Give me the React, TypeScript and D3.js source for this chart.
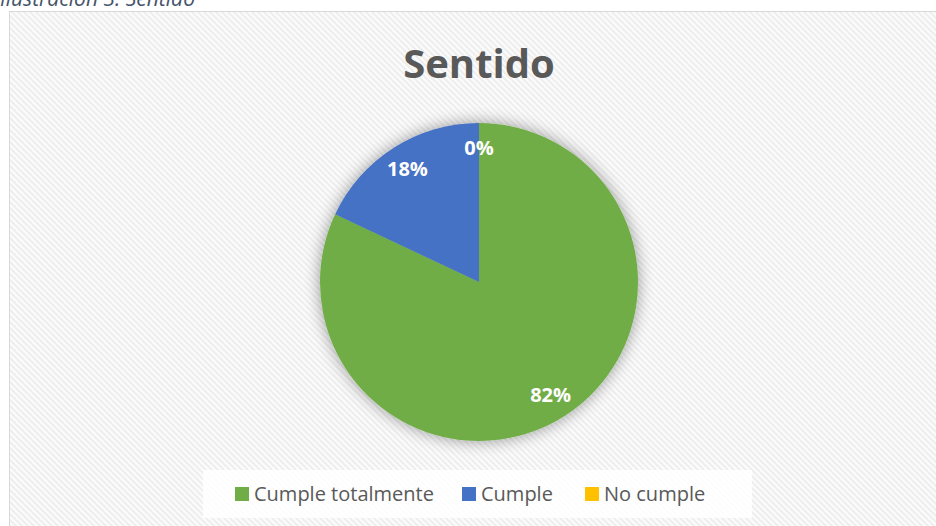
import React, { useEffect, useRef } from 'react';
import * as d3 from 'd3';

const categories = ['Cumple totalmente', 'Cumple', 'No cumple'];
const values = [82, 18, 0];
const colors = ['#70ad47', '#4472c4', '#ffc000'];
const title = 'Sentido';
const caption = 'Ilustración 3: Sentido';

const W = 936;
const H = 526;
const FONT = "'Open Sans', 'Noto Sans', sans-serif";

export default function App() {
  const ref = useRef<SVGSVGElement | null>(null);

  useEffect(() => {
    const svg = d3.select(ref.current);
    svg.selectAll('*').remove();

    const defs = svg.append('defs');
    const pat = defs.append('pattern')
      .attr('id', 'hatch')
      .attr('width', 6)
      .attr('height', 6)
      .attr('patternUnits', 'userSpaceOnUse');
    pat.append('rect').attr('width', 6).attr('height', 6).attr('fill', '#fcfcfc');
    pat.append('path')
      .attr('d', 'M-2,-2 L8,8 M-2,4 L2,8 M4,-2 L8,2')
      .attr('stroke', '#eeeeee')
      .attr('stroke-width', 2);

    const shadow = defs.append('filter')
      .attr('id', 'shadow')
      .attr('x', '-30%').attr('y', '-30%')
      .attr('width', '160%').attr('height', '160%');
    shadow.append('feGaussianBlur').attr('in', 'SourceAlpha').attr('stdDeviation', 8);
    shadow.append('feComponentTransfer')
      .append('feFuncA').attr('type', 'linear').attr('slope', 0.4);
    const merge = shadow.append('feMerge');
    merge.append('feMergeNode');
    merge.append('feMergeNode').attr('in', 'SourceGraphic');

    // caption above the chart (clipped at the top, as in the source)
    svg.append('text')
      .attr('x', 0)
      .attr('y', 6)
      .attr('font-family', FONT)
      .attr('font-style', 'italic')
      .attr('font-size', 21)
      .attr('fill', '#44546a')
      .text(caption);

    // chart frame
    svg.append('rect')
      .attr('x', 9.5).attr('y', 11.5)
      .attr('width', W).attr('height', H)
      .attr('fill', 'url(#hatch)')
      .attr('stroke', '#d9d9d9');

    svg.append('text')
      .attr('x', 479)
      .attr('y', 78)
      .attr('text-anchor', 'middle')
      .attr('font-family', FONT)
      .attr('font-weight', 'bold')
      .attr('font-size', 40)
      .attr('fill', '#595959')
      .text(title);

    const cx = 479, cy = 282, r = 159;
    const pie = d3.pie<number>().sort(null).value(d => d);
    const arcs = pie(values);
    const arc = d3.arc<d3.PieArcDatum<number>>().innerRadius(0).outerRadius(r);
    const labelArc = d3.arc<d3.PieArcDatum<number>>().innerRadius(r * 0.84).outerRadius(r * 0.84);

    const g = svg.append('g').attr('transform', `translate(${cx},${cy})`);
    g.append('g').attr('filter', 'url(#shadow)')
      .selectAll('path')
      .data(arcs)
      .join('path')
      .attr('d', arc)
      .attr('fill', (_, i) => colors[i]);

    g.selectAll('text.lbl')
      .data(arcs)
      .join('text')
      .attr('class', 'lbl')
      .attr('transform', d => `translate(${labelArc.centroid(d)})`)
      .attr('text-anchor', 'middle')
      .attr('dy', '0.35em')
      .attr('font-family', FONT)
      .attr('font-weight', 'bold')
      .attr('font-size', 20)
      .attr('fill', '#ffffff')
      .text(d => `${d.data}%`);

    // legend
    svg.append('rect')
      .attr('x', 203).attr('y', 470)
      .attr('width', 549).attr('height', 48)
      .attr('fill', '#ffffff')
      .attr('fill-opacity', 0.85);

    const legendX = [235, 462, 585];
    const items = svg.append('g').selectAll('g')
      .data(categories)
      .join('g')
      .attr('transform', (_, i) => `translate(${legendX[i]},494)`);
    items.append('rect')
      .attr('x', 0).attr('y', -7)
      .attr('width', 14).attr('height', 14)
      .attr('fill', (_, i) => colors[i]);
    items.append('text')
      .attr('x', 19)
      .attr('y', 0)
      .attr('dy', '0.35em')
      .attr('font-family', FONT)
      .attr('font-size', 20)
      .attr('fill', '#595959')
      .text(d => d);
  }, []);

  return (
    <svg
      ref={ref}
      width={W}
      height={H}
      style={{ position: 'absolute', left: 0, top: 0, background: '#ffffff' }}
    />
  );
}
